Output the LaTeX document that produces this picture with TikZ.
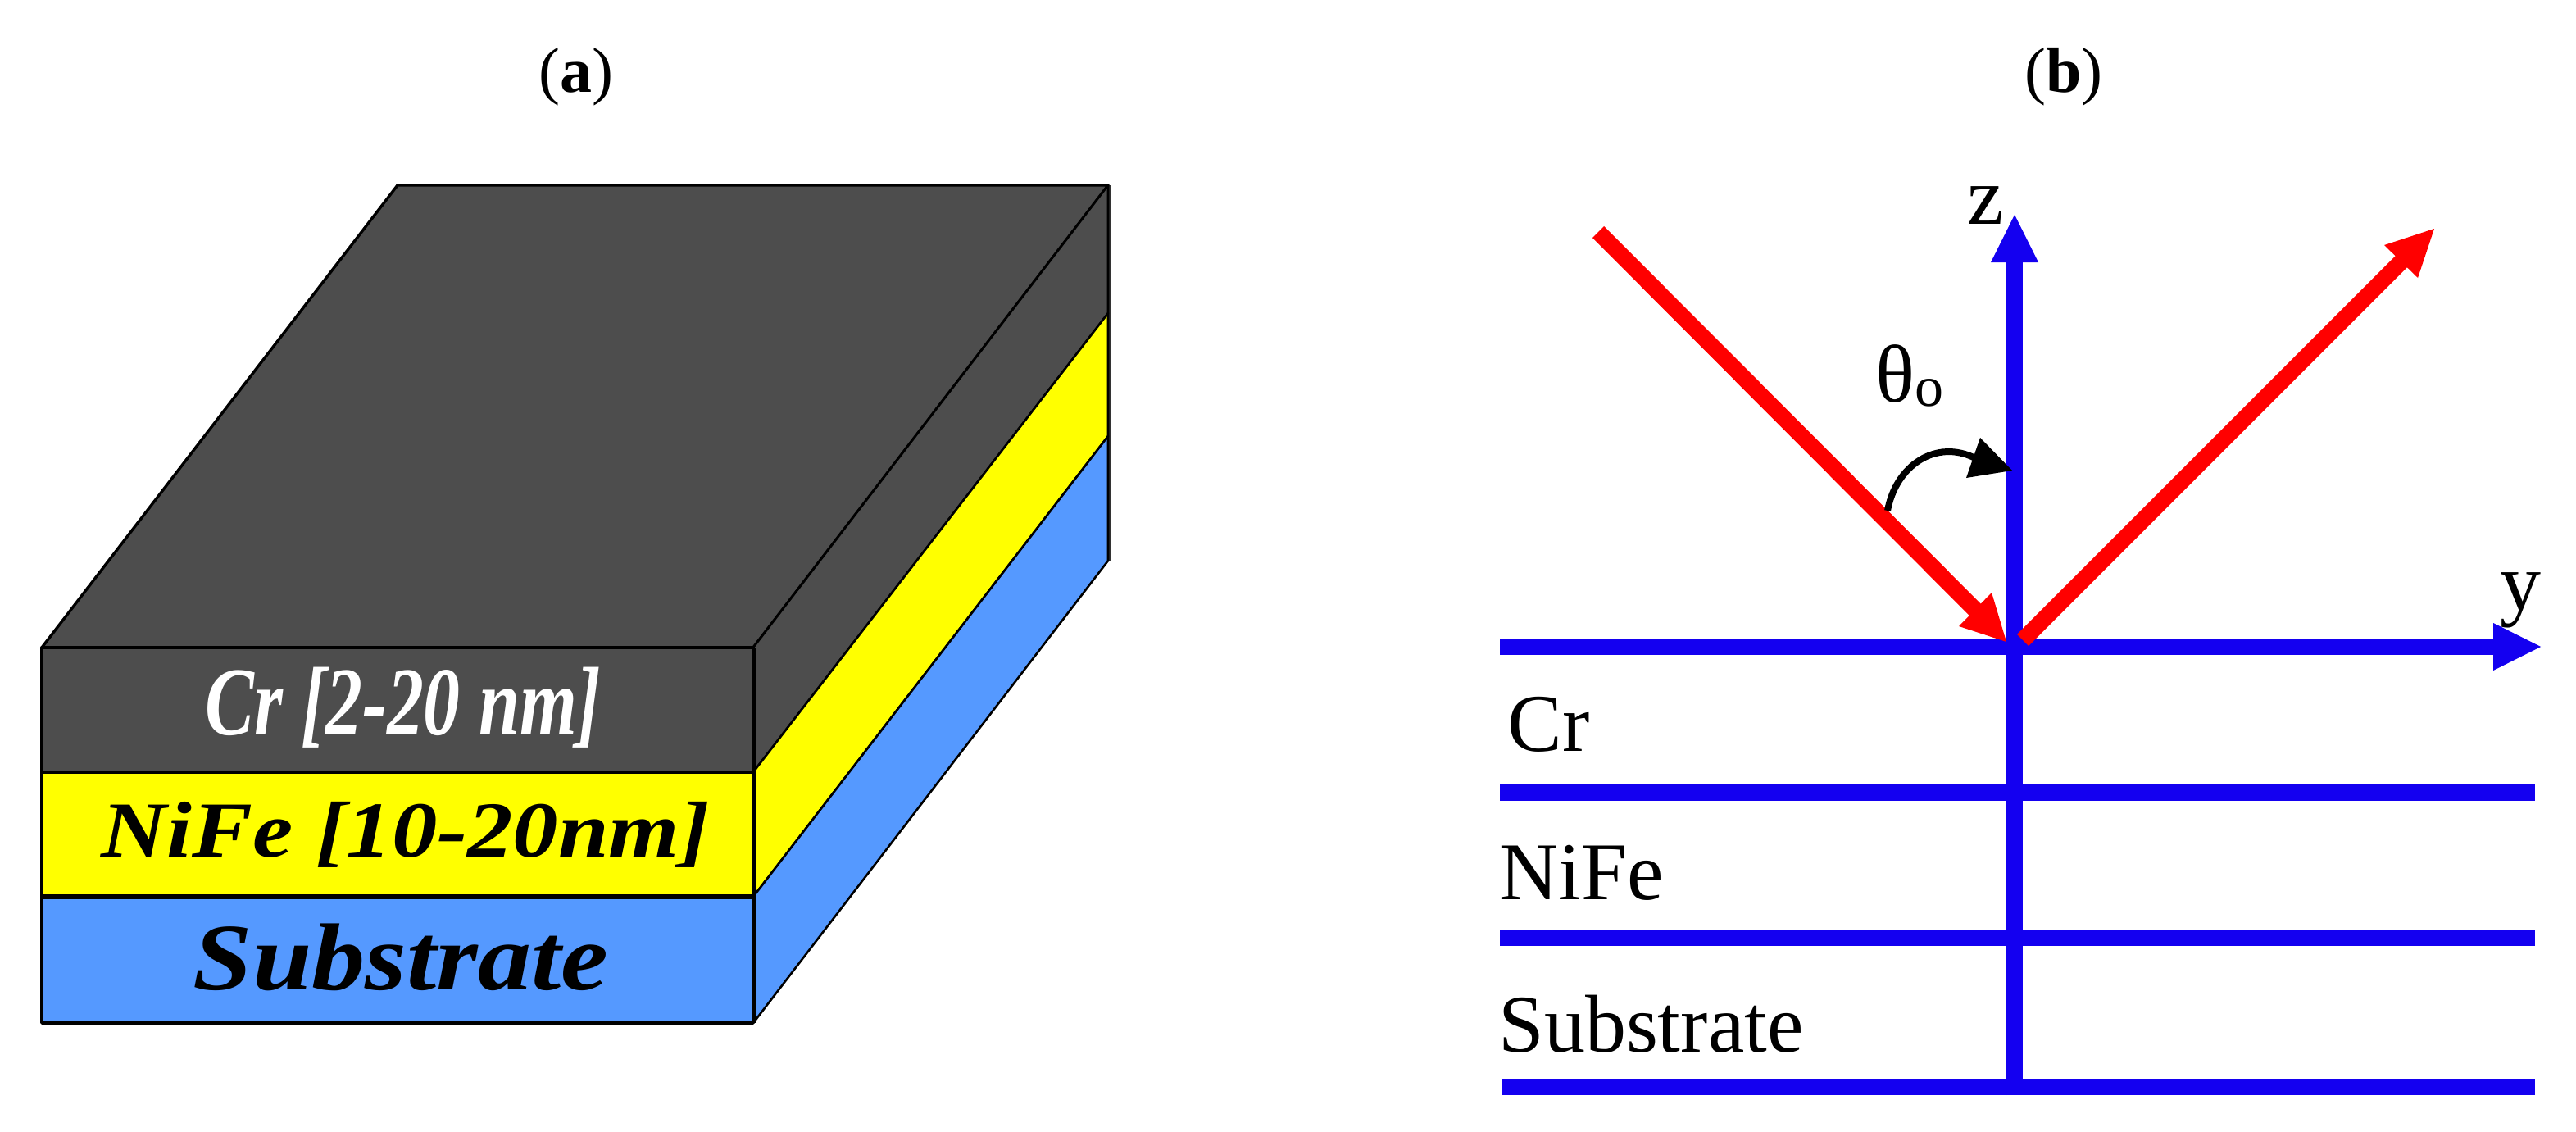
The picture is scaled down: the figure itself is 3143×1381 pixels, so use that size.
\documentclass[tikz,border=0pt]{standalone}
\usepackage{fontspec}
\setmainfont{Liberation Serif}
\definecolor{crgray}{HTML}{4D4D4D}
\definecolor{edgegray}{HTML}{333333}
\definecolor{subblue}{HTML}{5599FF}
\definecolor{nifeyellow}{HTML}{FFFF00}
\definecolor{axisblue}{HTML}{1400F0}
\definecolor{rayred}{HTML}{FF0000}
\tikzset{
  px/.style={x=0.5pt,y=-0.5pt},
  face/.style={draw=black,line width=1.7pt,line join=round},
  thinface/.style={draw=black,line width=1.3pt,line join=round},
  axis/.style={draw=axisblue,line width=10pt},
  axishead/.style={fill=axisblue},
  ray/.style={draw=rayred,line width=10pt},
  rayhead/.style={fill=rayred},
  lbl/.style={inner sep=0pt,font=\fontsize{50}{50}\selectfont,anchor=base west},
  ttl/.style={inner sep=0pt,font=\fontsize{39}{39}\selectfont,anchor=base},
  lay/.style={inner sep=0pt,font=\fontsize{44}{44}\selectfont\bfseries\itshape,anchor=base,transform shape}
}
\begin{document}
\begin{tikzpicture}[px]
\useasboundingbox (0,0) rectangle (3143,1381);
% titles
\node[ttl] (ta) at (703,112) {(\textbf{a})};
\node[ttl] (tb) at (2518,112) {(\textbf{b})};
% block corners
\coordinate (ftl) at (51,790);
\coordinate (ftr) at (919,790);
\coordinate (fc) at (51,942);
\coordinate (fcr) at (919,942);
\coordinate (fn) at (51,1094);
\coordinate (fnr) at (919,1094);
\coordinate (fb) at (51,1248);
\coordinate (fbr) at (919,1248);
\coordinate (bl) at (485,226);
\coordinate (br) at (1352,226);
\coordinate (br1) at (1352,382);
\coordinate (br2) at (1352,532);
\coordinate (br3) at (1352,684);
% faces
\fill[edgegray] (br) rectangle (1356,684);
\path[face,fill=crgray] (ftl) -- (bl) -- (br) -- (ftr) -- cycle;
\path[thinface,fill=crgray] (ftr) -- (br) -- (br1) -- (fcr) -- cycle;
\path[thinface,fill=nifeyellow] (fcr) -- (br1) -- (br2) -- (fnr) -- cycle;
\path[thinface,fill=subblue] (fnr) -- (br2) -- (br3) -- (fbr) -- cycle;
\path[face,fill=crgray] (ftl) rectangle (fcr);
\path[face,fill=nifeyellow] (fc) rectangle (fnr);
\path[face,fill=subblue] (fn) rectangle (fbr);
\draw[line width=3pt] (fn) -- (fnr);
\draw[line width=2.5pt] (ftr) -- (fbr);
% layer labels
\node[lay,white,xscale=1.02,yscale=1.35] (l1) at (492,896) {Cr [2-20 nm]};
\node[lay,black,xscale=1.26,yscale=1.1] (l2) at (495,1045) {NiFe [10-20nm]};
\node[lay,black,xscale=1.48,yscale=1.32] (l3) at (489,1207) {Substrate};
% axes
\coordinate (ztip) at (2458,262);
\coordinate (zbot) at (2458,1336);
\coordinate (yl) at (1830,789);
\coordinate (ytip) at (3100,789);
\coordinate (l1a) at (1830,967);
\coordinate (l1b) at (3093,967);
\coordinate (l2a) at (1830,1144);
\coordinate (l2b) at (3093,1144);
\coordinate (l3a) at (1833,1326);
\coordinate (l3b) at (3093,1326);
\draw[axis] (l1a) -- (l1b);
\draw[axis] (l2a) -- (l2b);
\draw[axis] (l3a) -- (l3b);
\draw[axis] (zbot) -- (2458,318);
\fill[axishead] (ztip) -- (2487,320) -- (2429,320) -- cycle;
\draw[axis] (yl) -- (3044,789);
\fill[axishead] (ytip) -- (3042,760) -- (3042,818) -- cycle;
% rays
\coordinate (rin) at (1950,283);
\coordinate (rintip) at (2448,783);
\coordinate (rout) at (2468,781);
\coordinate (routtip) at (2970,279);
\draw[ray] (rin) -- (2411,745);
\fill[rayhead] (rintip) -- (2430,723) -- (2390,764) -- cycle;
\draw[ray] (rout) -- (2931,318);
\fill[rayhead] (routtip) -- (2909,299) -- (2950,339) -- cycle;
% angle
\coordinate (aa) at (2303,623);
\coordinate (ab) at (2410,559);
\draw[line width=4pt] (aa) .. controls (2313,568) and (2362,535) .. (ab);
\fill (2455,574) -- (2416,534) -- (2399,583) -- cycle;
% labels
\node[lbl] (z) at (2400,273) {z};
\node[lbl] (y) at (3050,744) {y};
\node[lbl] (th) at (2288,490) {θ};
\node[lbl,font=\fontsize{35}{35}\selectfont] (o) at (2336,495) {o};
\node[lbl] (cr) at (1839,916) {Cr};
\node[lbl] (nife) at (1829,1097) {NiFe};
\node[lbl] (sub) at (1828,1283) {Substrate};
\end{tikzpicture}
\end{document}
